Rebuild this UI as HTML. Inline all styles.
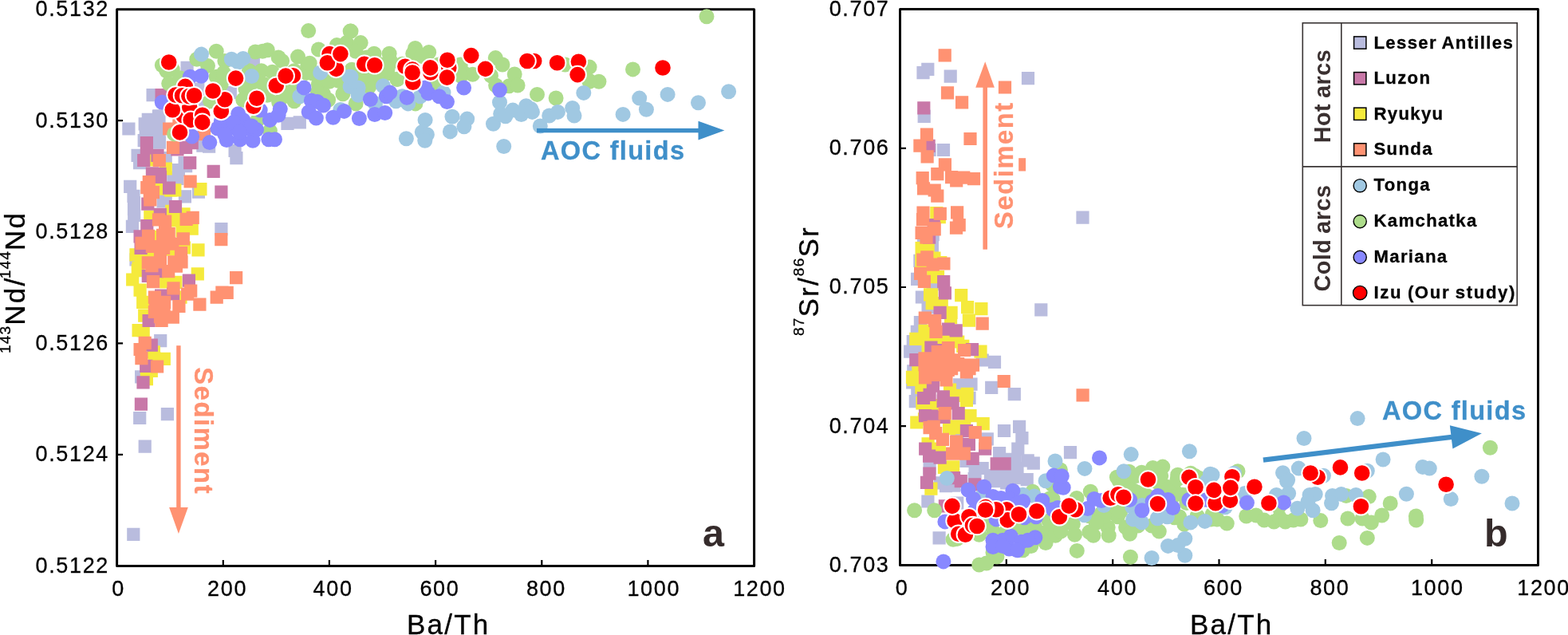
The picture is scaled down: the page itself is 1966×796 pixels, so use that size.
<!DOCTYPE html>
<html lang="en"><head><meta charset="utf-8"><title>Ba/Th versus Nd and Sr isotopes in hot and cold arcs</title>
<style>
html,body{margin:0;padding:0;background:#fff}
body{width:1966px;height:796px;overflow:hidden}
svg{display:block;font-family:"Liberation Sans",Arial,Helvetica,sans-serif}
.tk{font-size:27px;letter-spacing:1.65px;fill:#000;stroke:#000;stroke-width:0.3px}
.ax{font-size:35px;letter-spacing:2.2px;fill:#000;stroke:#000;stroke-width:0.3px}
.sup{font-size:19px;letter-spacing:1.2px}
.an{font-size:32.6px;font-weight:bold;letter-spacing:1.3px;stroke-width:0.3px}
.sd{letter-spacing:1.65px}
.lg{font-size:22.2px;font-weight:bold;letter-spacing:1.3px;word-spacing:-1px;fill:#000;stroke:#000;stroke-width:0.3px}
.grp{font-size:28.8px;font-weight:bold;letter-spacing:0.45px;word-spacing:-1.4px;fill:#3a3030}
.pl{font-size:48.5px;font-weight:bold;fill:#352b2b}
</style></head><body>
<svg width="1966" height="796" viewBox="0 0 1966 796">
<rect width="1966" height="796" fill="#fff"/>
<g id="panel-a">
<rect x="146.6" y="11.7" width="799.0" height="697.7" fill="none" stroke="#000" stroke-width="3" stroke-linejoin="round"/>
<path d="M279.8 709.4v-7.5M412.9 709.4v-7.5M546.1 709.4v-7.5M679.3 709.4v-7.5M812.4 709.4v-7.5M146.6 151.2h7.5M146.6 290.8h7.5M146.6 430.3h7.5M146.6 569.9h7.5" stroke="#000" stroke-width="2.2" fill="none"/>
<path fill="#b9bcde" d="M183.5 111.1h16.2v16.2h-16.2zM226.5 76.8h16.2v16.2h-16.2zM309.7 69.9h16.2v16.2h-16.2zM280.7 108.0h16.2v16.2h-16.2zM240.2 103.5h16.2v16.2h-16.2zM153.3 153.4h16.2v16.2h-16.2zM173.6 147.3h16.2v16.2h-16.2zM190.9 137.7h16.2v16.2h-16.2zM182.8 155.0h16.2v16.2h-16.2zM246.9 121.4h16.2v16.2h-16.2zM246.3 174.6h16.2v16.2h-16.2zM254.0 175.6h16.2v16.2h-16.2zM286.5 180.7h16.2v16.2h-16.2zM288.3 190.1h16.2v16.2h-16.2zM191.9 170.5h16.2v16.2h-16.2zM164.5 186.8h16.2v16.2h-16.2zM167.0 196.0h16.2v16.2h-16.2zM199.6 189.9h16.2v16.2h-16.2zM223.5 196.0h16.2v16.2h-16.2zM225.0 200.0h16.2v16.2h-16.2zM215.8 205.1h16.2v16.2h-16.2zM209.2 214.8h16.2v16.2h-16.2zM214.3 215.8h16.2v16.2h-16.2zM155.1 225.8h16.2v16.2h-16.2zM159.4 237.7h16.2v16.2h-16.2zM223.8 238.2h16.2v16.2h-16.2zM240.8 232.6h16.2v16.2h-16.2zM199.6 242.3h16.2v16.2h-16.2zM172.6 168.0h16.2v16.2h-16.2zM159.9 246.0h16.2v16.2h-16.2zM159.9 254.1h16.2v16.2h-16.2zM157.8 275.8h16.2v16.2h-16.2zM269.3 279.1h16.2v16.2h-16.2zM196.5 244.4h16.2v16.2h-16.2zM162.4 317.2h16.2v16.2h-16.2zM193.1 419.0h16.2v16.2h-16.2zM169.0 464.2h16.2v16.2h-16.2zM167.1 515.9h16.2v16.2h-16.2zM201.8 511.0h16.2v16.2h-16.2zM173.6 551.5h16.2v16.2h-16.2zM159.2 661.8h16.2v16.2h-16.2zM352.4 146.8h16.2v16.2h-16.2zM367.7 145.3h16.2v16.2h-16.2zM174.6 152.4h16.2v16.2h-16.2zM191.4 146.3h16.2v16.2h-16.2zM191.4 160.0h16.2v16.2h-16.2zM177.7 141.7h16.2v16.2h-16.2zM191.4 137.2h16.2v16.2h-16.2zM160.1 261.7h16.2v16.2h-16.2z"/>
<path fill="#f5ea3c" d="M199.6 203.4h16.2v16.2h-16.2zM243.3 229.0h16.2v16.2h-16.2zM211.2 230.3h16.2v16.2h-16.2zM206.2 230.6h16.2v16.2h-16.2zM192.9 228.5h16.2v16.2h-16.2zM176.7 192.4h16.2v16.2h-16.2zM180.2 263.8h16.2v16.2h-16.2zM207.2 256.7h16.2v16.2h-16.2zM222.4 260.2h16.2v16.2h-16.2zM212.3 268.3h16.2v16.2h-16.2zM220.4 281.1h16.2v16.2h-16.2zM232.6 278.5h16.2v16.2h-16.2zM240.4 305.2h16.2v16.2h-16.2zM222.9 302.4h16.2v16.2h-16.2zM208.2 304.5h16.2v16.2h-16.2zM186.8 288.7h16.2v16.2h-16.2zM168.5 314.1h16.2v16.2h-16.2zM177.2 312.1h16.2v16.2h-16.2zM239.7 335.3h16.2v16.2h-16.2zM158.1 342.4h16.2v16.2h-16.2zM165.5 328.0h16.2v16.2h-16.2zM167.5 355.5h16.2v16.2h-16.2zM200.1 345.3h16.2v16.2h-16.2zM212.3 345.8h16.2v16.2h-16.2zM171.1 370.7h16.2v16.2h-16.2zM173.1 387.5h16.2v16.2h-16.2zM218.4 364.6h16.2v16.2h-16.2zM165.5 406.0h16.2v16.2h-16.2zM171.6 406.2h16.2v16.2h-16.2zM197.7 441.8h16.2v16.2h-16.2zM185.8 441.6h16.2v16.2h-16.2zM184.8 433.2h16.2v16.2h-16.2zM181.7 456.8h16.2v16.2h-16.2zM175.8 467.0h16.2v16.2h-16.2zM164.7 331.1h16.2v16.2h-16.2zM162.4 311.2h16.2v16.2h-16.2z"/>
<path fill="#c878a8" d="M194.5 111.1h16.2v16.2h-16.2zM175.8 171.1h16.2v16.2h-16.2zM175.8 177.2h16.2v16.2h-16.2zM172.1 192.9h16.2v16.2h-16.2zM189.4 186.8h16.2v16.2h-16.2zM182.8 209.2h16.2v16.2h-16.2zM192.4 209.7h16.2v16.2h-16.2zM192.9 213.8h16.2v16.2h-16.2zM225.0 176.7h16.2v16.2h-16.2zM232.6 171.1h16.2v16.2h-16.2zM214.3 179.2h16.2v16.2h-16.2zM230.1 196.0h16.2v16.2h-16.2zM259.6 206.8h16.2v16.2h-16.2zM269.3 232.6h16.2v16.2h-16.2zM204.0 227.5h16.2v16.2h-16.2zM211.9 250.9h16.2v16.2h-16.2zM177.2 247.5h16.2v16.2h-16.2zM192.7 260.7h16.2v16.2h-16.2zM176.2 275.0h16.2v16.2h-16.2zM167.5 288.2h16.2v16.2h-16.2zM168.5 302.9h16.2v16.2h-16.2zM177.7 337.9h16.2v16.2h-16.2zM188.9 332.1h16.2v16.2h-16.2zM228.8 343.6h16.2v16.2h-16.2zM194.0 362.6h16.2v16.2h-16.2zM209.0 360.3h16.2v16.2h-16.2zM178.5 393.9h16.2v16.2h-16.2zM181.7 424.5h16.2v16.2h-16.2zM175.1 450.7h16.2v16.2h-16.2zM171.4 471.3h16.2v16.2h-16.2zM168.8 498.5h16.2v16.2h-16.2z"/>
<path fill="#ff9272" d="M204.1 153.4h16.2v16.2h-16.2zM216.3 144.8h16.2v16.2h-16.2zM247.9 160.1h16.2v16.2h-16.2zM208.9 176.7h16.2v16.2h-16.2zM191.7 192.9h16.2v16.2h-16.2zM230.5 219.4h16.2v16.2h-16.2zM178.7 219.9h16.2v16.2h-16.2zM176.2 227.0h16.2v16.2h-16.2zM183.8 233.1h16.2v16.2h-16.2zM179.7 235.1h16.2v16.2h-16.2zM180.2 242.4h16.2v16.2h-16.2zM190.9 267.3h16.2v16.2h-16.2zM199.0 269.4h16.2v16.2h-16.2zM225.5 266.8h16.2v16.2h-16.2zM233.6 264.8h16.2v16.2h-16.2zM177.9 287.7h16.2v16.2h-16.2zM196.0 286.7h16.2v16.2h-16.2zM203.6 285.1h16.2v16.2h-16.2zM221.7 291.2h16.2v16.2h-16.2zM169.5 296.8h16.2v16.2h-16.2zM182.8 300.9h16.2v16.2h-16.2zM197.0 302.9h16.2v16.2h-16.2zM218.9 309.0h16.2v16.2h-16.2zM177.7 321.2h16.2v16.2h-16.2zM192.9 320.2h16.2v16.2h-16.2zM210.2 320.2h16.2v16.2h-16.2zM219.4 320.2h16.2v16.2h-16.2zM269.2 292.1h16.2v16.2h-16.2zM288.0 340.1h16.2v16.2h-16.2zM270.3 358.5h16.2v16.2h-16.2zM276.6 358.7h16.2v16.2h-16.2zM263.6 364.5h16.2v16.2h-16.2zM242.3 373.6h16.2v16.2h-16.2zM227.0 360.6h16.2v16.2h-16.2zM231.1 356.5h16.2v16.2h-16.2zM209.4 353.2h16.2v16.2h-16.2zM183.9 345.0h16.2v16.2h-16.2zM203.1 332.1h16.2v16.2h-16.2zM212.8 325.5h16.2v16.2h-16.2zM185.8 364.6h16.2v16.2h-16.2zM198.0 370.7h16.2v16.2h-16.2zM216.3 375.9h16.2v16.2h-16.2zM185.8 382.9h16.2v16.2h-16.2zM192.9 389.0h16.2v16.2h-16.2zM208.7 389.6h16.2v16.2h-16.2zM194.5 393.7h16.2v16.2h-16.2zM173.6 421.7h16.2v16.2h-16.2zM167.5 429.9h16.2v16.2h-16.2zM169.3 441.1h16.2v16.2h-16.2zM189.0 451.4h16.2v16.2h-16.2zM199.0 292.9h16.2v16.2h-16.2zM192.9 309.7h16.2v16.2h-16.2zM208.2 297.5h16.2v16.2h-16.2zM182.3 325.0h16.2v16.2h-16.2zM199.0 277.7h16.2v16.2h-16.2zM186.8 374.7h16.2v16.2h-16.2zM197.5 379.3h16.2v16.2h-16.2z"/>
<g fill="#addc8b"><circle cx="386.7" cy="38.6" r="9.5"/><circle cx="439.1" cy="39.1" r="9.5"/><circle cx="399.4" cy="62.0" r="9.5"/><circle cx="422.3" cy="56.6" r="9.5"/><circle cx="434.5" cy="53.6" r="9.5"/><circle cx="271.2" cy="64.3" r="9.5"/><circle cx="320.1" cy="65.0" r="9.5"/><circle cx="329.2" cy="64.3" r="9.5"/><circle cx="335.3" cy="62.7" r="9.5"/><circle cx="349.1" cy="71.9" r="9.5"/><circle cx="353.6" cy="76.5" r="9.5"/><circle cx="373.5" cy="71.1" r="9.5"/><circle cx="385.7" cy="82.6" r="9.5"/><circle cx="246.8" cy="74.2" r="9.5"/><circle cx="260.5" cy="82.6" r="9.5"/><circle cx="281.9" cy="76.5" r="9.5"/><circle cx="203.3" cy="81.8" r="9.5"/><circle cx="208.7" cy="88.7" r="9.5"/><circle cx="216.3" cy="87.1" r="9.5"/><circle cx="211.7" cy="104.7" r="9.5"/><circle cx="225.5" cy="97.8" r="9.5"/><circle cx="271.2" cy="96.3" r="9.5"/><circle cx="312.4" cy="88.7" r="9.5"/><circle cx="327.7" cy="88.7" r="9.5"/><circle cx="341.4" cy="90.2" r="9.5"/><circle cx="368.9" cy="88.7" r="9.5"/><circle cx="277.3" cy="105.5" r="9.5"/><circle cx="307.9" cy="111.6" r="9.5"/><circle cx="330.7" cy="105.5" r="9.5"/><circle cx="335.3" cy="119.2" r="9.5"/><circle cx="304.8" cy="125.3" r="9.5"/><circle cx="263.6" cy="126.8" r="9.5"/><circle cx="368.9" cy="126.8" r="9.5"/><circle cx="391.8" cy="91.7" r="9.5"/><circle cx="399.4" cy="105.5" r="9.5"/><circle cx="405.5" cy="117.7" r="9.5"/><circle cx="411.6" cy="125.3" r="9.5"/><circle cx="429.9" cy="117.7" r="9.5"/><circle cx="429.9" cy="96.3" r="9.5"/><circle cx="440.0" cy="39.1" r="9.5"/><circle cx="452.2" cy="53.6" r="9.5"/><circle cx="446.1" cy="64.3" r="9.5"/><circle cx="469.0" cy="67.3" r="9.5"/><circle cx="488.1" cy="67.3" r="9.5"/><circle cx="459.8" cy="71.9" r="9.5"/><circle cx="478.1" cy="81.0" r="9.5"/><circle cx="490.4" cy="78.0" r="9.5"/><circle cx="504.1" cy="80.3" r="9.5"/><circle cx="520.6" cy="60.4" r="9.5"/><circle cx="537.7" cy="65.5" r="9.5"/><circle cx="517.8" cy="67.3" r="9.5"/><circle cx="528.5" cy="70.4" r="9.5"/><circle cx="549.9" cy="81.0" r="9.5"/><circle cx="577.3" cy="81.0" r="9.5"/><circle cx="581.9" cy="91.7" r="9.5"/><circle cx="592.6" cy="93.2" r="9.5"/><circle cx="577.3" cy="94.8" r="9.5"/><circle cx="621.3" cy="72.6" r="9.5"/><circle cx="630.0" cy="81.0" r="9.5"/><circle cx="645.2" cy="92.9" r="9.5"/><circle cx="615.5" cy="94.8" r="9.5"/><circle cx="621.6" cy="107.0" r="9.5"/><circle cx="638.4" cy="107.7" r="9.5"/><circle cx="649.1" cy="107.0" r="9.5"/><circle cx="673.5" cy="118.4" r="9.5"/><circle cx="697.1" cy="123.0" r="9.5"/><circle cx="708.6" cy="81.0" r="9.5"/><circle cx="739.1" cy="84.1" r="9.5"/><circle cx="739.1" cy="102.4" r="9.5"/><circle cx="455.3" cy="96.3" r="9.5"/><circle cx="470.5" cy="96.3" r="9.5"/><circle cx="485.8" cy="91.7" r="9.5"/><circle cx="498.0" cy="99.3" r="9.5"/><circle cx="462.9" cy="108.5" r="9.5"/><circle cx="446.1" cy="129.9" r="9.5"/><circle cx="520.9" cy="129.9" r="9.5"/><circle cx="543.8" cy="107.0" r="9.5"/><circle cx="886.0" cy="20.8" r="9.5"/><circle cx="793.5" cy="86.9" r="9.5"/><circle cx="750.9" cy="102.2" r="9.5"/><circle cx="739.4" cy="101.6" r="9.5"/><circle cx="338.4" cy="164.1" r="9.5"/><circle cx="323.1" cy="150.4" r="9.5"/><circle cx="218.6" cy="167.9" r="9.5"/><circle cx="384.2" cy="91.4" r="9.5"/><circle cx="424.8" cy="101.6" r="9.5"/><circle cx="280.4" cy="91.4" r="9.5"/><circle cx="349.6" cy="128.0" r="9.5"/><circle cx="359.7" cy="119.9" r="9.5"/><circle cx="498.1" cy="99.5" r="9.5"/><circle cx="323.1" cy="101.6" r="9.5"/><circle cx="331.3" cy="115.8" r="9.5"/><circle cx="312.9" cy="107.7" r="9.5"/><circle cx="388.2" cy="79.2" r="9.5"/><circle cx="473.7" cy="91.4" r="9.5"/><circle cx="363.8" cy="107.7" r="9.5"/><circle cx="398.4" cy="115.8" r="9.5"/><circle cx="306.8" cy="123.9" r="9.5"/><circle cx="441.1" cy="87.3" r="9.5"/><circle cx="457.4" cy="95.5" r="9.5"/><circle cx="485.9" cy="87.3" r="9.5"/><circle cx="412.9" cy="102.2" r="9.5"/></g>
<g fill="#a0c8e2"><circle cx="252.5" cy="68.1" r="9.5"/><circle cx="290.3" cy="74.2" r="9.5"/><circle cx="304.8" cy="73.4" r="9.5"/><circle cx="298.7" cy="78.0" r="9.5"/><circle cx="315.5" cy="95.5" r="9.5"/><circle cx="401.7" cy="91.0" r="9.5"/><circle cx="375.8" cy="120.7" r="9.5"/><circle cx="437.6" cy="96.3" r="9.5"/><circle cx="439.1" cy="108.5" r="9.5"/><circle cx="426.9" cy="137.5" r="9.5"/><circle cx="440.0" cy="96.3" r="9.5"/><circle cx="449.2" cy="110.0" r="9.5"/><circle cx="449.2" cy="119.2" r="9.5"/><circle cx="480.4" cy="107.7" r="9.5"/><circle cx="556.0" cy="116.1" r="9.5"/><circle cx="527.0" cy="120.7" r="9.5"/><circle cx="496.5" cy="126.8" r="9.5"/><circle cx="511.7" cy="129.9" r="9.5"/><circle cx="470.5" cy="129.9" r="9.5"/><circle cx="504.1" cy="120.7" r="9.5"/><circle cx="626.5" cy="128.3" r="9.5"/><circle cx="731.8" cy="116.4" r="9.5"/><circle cx="781.1" cy="143.4" r="9.5"/><circle cx="801.7" cy="123.1" r="9.5"/><circle cx="810.4" cy="137.3" r="9.5"/><circle cx="837.1" cy="118.4" r="9.5"/><circle cx="875.5" cy="128.8" r="9.5"/><circle cx="913.6" cy="114.8" r="9.5"/><circle cx="533.1" cy="150.4" r="9.5"/><circle cx="529.3" cy="165.6" r="9.5"/><circle cx="535.4" cy="168.7" r="9.5"/><circle cx="532.8" cy="176.3" r="9.5"/><circle cx="509.4" cy="173.7" r="9.5"/><circle cx="567.0" cy="146.2" r="9.5"/><circle cx="585.7" cy="149.1" r="9.5"/><circle cx="581.9" cy="158.7" r="9.5"/><circle cx="564.4" cy="164.9" r="9.5"/><circle cx="618.5" cy="155.2" r="9.5"/><circle cx="627.7" cy="142.7" r="9.5"/><circle cx="633.8" cy="145.8" r="9.5"/><circle cx="643.0" cy="138.1" r="9.5"/><circle cx="653.6" cy="143.5" r="9.5"/><circle cx="659.7" cy="132.8" r="9.5"/><circle cx="665.8" cy="136.6" r="9.5"/><circle cx="667.4" cy="140.4" r="9.5"/><circle cx="677.3" cy="158.0" r="9.5"/><circle cx="688.7" cy="145.0" r="9.5"/><circle cx="699.4" cy="140.4" r="9.5"/><circle cx="717.7" cy="135.4" r="9.5"/><circle cx="720.0" cy="145.0" r="9.5"/><circle cx="631.7" cy="183.5" r="9.5"/></g>
<g fill="#8888ff"><circle cx="238.4" cy="96.3" r="9.5"/><circle cx="252.2" cy="95.2" r="9.5"/><circle cx="464.4" cy="124.5" r="9.5"/><circle cx="484.3" cy="120.7" r="9.5"/><circle cx="488.8" cy="116.1" r="9.5"/><circle cx="510.2" cy="122.2" r="9.5"/><circle cx="533.1" cy="110.0" r="9.5"/><circle cx="536.9" cy="116.9" r="9.5"/><circle cx="550.6" cy="120.7" r="9.5"/><circle cx="560.5" cy="127.6" r="9.5"/><circle cx="581.6" cy="110.0" r="9.5"/><circle cx="626.5" cy="112.8" r="9.5"/><circle cx="450.4" cy="148.5" r="9.5"/><circle cx="469.8" cy="143.5" r="9.5"/><circle cx="482.7" cy="141.5" r="9.5"/><circle cx="203.3" cy="128.2" r="9.5"/><circle cx="240.7" cy="171.0" r="9.5"/><circle cx="262.8" cy="178.6" r="9.5"/><circle cx="284.2" cy="175.5" r="9.5"/><circle cx="301.0" cy="174.8" r="9.5"/><circle cx="317.0" cy="176.3" r="9.5"/><circle cx="336.8" cy="174.8" r="9.5"/><circle cx="344.5" cy="174.8" r="9.5"/><circle cx="272.8" cy="161.0" r="9.5"/><circle cx="277.3" cy="151.9" r="9.5"/><circle cx="286.5" cy="161.0" r="9.5"/><circle cx="298.7" cy="142.7" r="9.5"/><circle cx="304.8" cy="150.4" r="9.5"/><circle cx="292.6" cy="153.4" r="9.5"/><circle cx="307.9" cy="161.0" r="9.5"/><circle cx="321.6" cy="162.6" r="9.5"/><circle cx="315.5" cy="158.0" r="9.5"/><circle cx="300.2" cy="165.6" r="9.5"/><circle cx="281.9" cy="168.7" r="9.5"/><circle cx="326.2" cy="138.1" r="9.5"/><circle cx="351.3" cy="136.6" r="9.5"/><circle cx="338.4" cy="150.4" r="9.5"/><circle cx="349.1" cy="144.3" r="9.5"/><circle cx="381.1" cy="109.9" r="9.5"/><circle cx="390.3" cy="125.9" r="9.5"/><circle cx="397.9" cy="127.5" r="9.5"/><circle cx="405.5" cy="132.0" r="9.5"/><circle cx="387.2" cy="140.4" r="9.5"/><circle cx="396.4" cy="148.1" r="9.5"/><circle cx="417.7" cy="147.3" r="9.5"/><circle cx="431.5" cy="139.4" r="9.5"/></g>
<g fill="#ff0000" stroke="#fff" stroke-width="2"><circle cx="346.3" cy="107.3" r="10.8"/><circle cx="211.7" cy="78.0" r="10.8"/><circle cx="295.6" cy="98.1" r="10.8"/><circle cx="413.1" cy="67.6" r="10.8"/><circle cx="421.5" cy="86.4" r="10.8"/><circle cx="410.4" cy="78.7" r="10.8"/><circle cx="426.9" cy="67.6" r="10.8"/><circle cx="367.4" cy="94.8" r="10.8"/><circle cx="358.2" cy="95.1" r="10.8"/><circle cx="456.8" cy="80.3" r="10.8"/><circle cx="469.8" cy="81.8" r="10.8"/><circle cx="507.9" cy="83.3" r="10.8"/><circle cx="517.8" cy="103.2" r="10.8"/><circle cx="517.1" cy="87.1" r="10.8"/><circle cx="517.1" cy="91.0" r="10.8"/><circle cx="539.9" cy="91.0" r="10.8"/><circle cx="539.5" cy="84.9" r="10.8"/><circle cx="562.8" cy="84.9" r="10.8"/><circle cx="560.5" cy="97.1" r="10.8"/><circle cx="560.9" cy="75.2" r="10.8"/><circle cx="590.8" cy="69.6" r="10.8"/><circle cx="608.6" cy="86.4" r="10.8"/><circle cx="669.7" cy="76.5" r="10.8"/><circle cx="661.0" cy="76.5" r="10.8"/><circle cx="698.6" cy="78.7" r="10.8"/><circle cx="725.4" cy="77.2" r="10.8"/><circle cx="724.1" cy="93.6" r="10.8"/><circle cx="831.0" cy="85.0" r="10.8"/><circle cx="277.3" cy="139.4" r="10.8"/><circle cx="281.9" cy="124.7" r="10.8"/><circle cx="267.0" cy="114.0" r="10.8"/><circle cx="317.8" cy="133.3" r="10.8"/><circle cx="321.9" cy="123.2" r="10.8"/><circle cx="230.0" cy="145.0" r="10.8"/><circle cx="216.3" cy="137.8" r="10.8"/><circle cx="237.7" cy="134.3" r="10.8"/><circle cx="239.2" cy="150.4" r="10.8"/><circle cx="253.7" cy="144.3" r="10.8"/><circle cx="253.7" cy="153.4" r="10.8"/><circle cx="225.5" cy="165.9" r="10.8"/><circle cx="232.3" cy="108.4" r="10.8"/><circle cx="220.1" cy="119.1" r="10.8"/><circle cx="228.5" cy="119.8" r="10.8"/><circle cx="236.9" cy="120.6" r="10.8"/><circle cx="243.5" cy="119.8" r="10.8"/></g>
<g fill="#ff9272"><rect x="221.2" y="433.2" width="5.4" height="204"/><path d="M212.1 636.1h23.7L223.9 669z"/></g>
<g fill="#3f8fc9"><rect x="673" y="160.9" width="203" height="5.4"/><path d="M875.5 151.8v23.6L908.4 163.6z"/></g>
<text class="an" fill="#3f8fc9" stroke="#3f8fc9" x="678" y="199.9">AOC fluids</text>
<text class="an sd" fill="#ff9272" stroke="#ff9272" transform="translate(244.1 460.3) rotate(90)">Sediment</text>
<text class="pl" x="881" y="685.1">a</text>
<text class="tk" x="44.5" y="20.0">0.5132</text>
<text class="tk" x="44.5" y="159.5">0.5130</text>
<text class="tk" x="44.5" y="299.1">0.5128</text>
<text class="tk" x="44.5" y="438.6">0.5126</text>
<text class="tk" x="44.5" y="578.2">0.5124</text>
<text class="tk" x="44.5" y="717.7">0.5122</text>
<text class="tk" text-anchor="end" x="156.8" y="746.8">0</text>
<text class="tk" text-anchor="end" x="310.1" y="746.8">200</text>
<text class="tk" text-anchor="end" x="442.6" y="746.8">400</text>
<text class="tk" text-anchor="end" x="576.4" y="746.8">600</text>
<text class="tk" text-anchor="end" x="709.9" y="746.8">800</text>
<text class="tk" text-anchor="end" x="853.1" y="746.8">1000</text>
<text class="tk" text-anchor="end" x="985.8" y="746.8">1200</text>
<text class="ax" x="510" y="794.9">Ba/Th</text>
<text class="ax" transform="translate(31 443) rotate(-90)"><tspan class="sup" dy="-18">143</tspan><tspan dy="18">Nd/</tspan><tspan class="sup" dx="-2.6" dy="-18">144</tspan><tspan dy="18">Nd</tspan></text>
</g>
<g id="panel-b">
<rect x="1128.5" y="11.5" width="800.0" height="697.0" fill="none" stroke="#000" stroke-width="3" stroke-linejoin="round"/>
<path d="M1261.8 708.5v-7.5M1395.2 708.5v-7.5M1528.5 708.5v-7.5M1661.8 708.5v-7.5M1795.2 708.5v-7.5M1128.5 185.8h7.5M1128.5 360.0h7.5M1128.5 534.2h7.5" stroke="#000" stroke-width="2.2" fill="none"/>
<path fill="#b9bcde" d="M1155.2 78.7h16.2v16.2h-16.2zM1149.4 83.1h16.2v16.2h-16.2zM1183.6 87.5h16.2v16.2h-16.2zM1280.9 90.1h16.2v16.2h-16.2zM1150.6 137.7h16.2v16.2h-16.2zM1157.5 179.9h16.2v16.2h-16.2zM1174.9 179.9h16.2v16.2h-16.2zM1161.6 286.0h16.2v16.2h-16.2zM1149.9 295.1h16.2v16.2h-16.2zM1160.8 301.2h16.2v16.2h-16.2zM1145.3 318.7h16.2v16.2h-16.2zM1142.0 341.7h16.2v16.2h-16.2zM1161.6 348.0h16.2v16.2h-16.2zM1147.8 364.4h16.2v16.2h-16.2zM1297.2 380.2h16.2v16.2h-16.2zM1155.5 377.2h16.2v16.2h-16.2zM1145.8 396.0h16.2v16.2h-16.2zM1141.7 407.7h16.2v16.2h-16.2zM1136.7 419.9h16.2v16.2h-16.2zM1133.1 432.6h16.2v16.2h-16.2zM1141.2 432.8h16.2v16.2h-16.2zM1238.9 445.8h16.2v16.2h-16.2zM1223.6 443.4h16.2v16.2h-16.2zM1137.2 457.2h16.2v16.2h-16.2zM1136.1 471.4h16.2v16.2h-16.2zM1195.1 474.2h16.2v16.2h-16.2zM1209.4 473.6h16.2v16.2h-16.2zM1235.1 477.7h16.2v16.2h-16.2zM1263.7 486.1h16.2v16.2h-16.2zM1139.7 495.0h16.2v16.2h-16.2zM1142.2 482.6h16.2v16.2h-16.2zM1207.4 490.7h16.2v16.2h-16.2zM1270.0 526.8h16.2v16.2h-16.2zM1250.9 531.9h16.2v16.2h-16.2zM1273.3 541.0h16.2v16.2h-16.2zM1229.7 542.2h16.2v16.2h-16.2zM1192.1 533.1h16.2v16.2h-16.2zM1268.2 554.5h16.2v16.2h-16.2zM1245.0 560.0h16.2v16.2h-16.2zM1254.1 567.7h16.2v16.2h-16.2zM1280.6 569.2h16.2v16.2h-16.2zM1287.7 572.5h16.2v16.2h-16.2zM1267.4 578.9h16.2v16.2h-16.2zM1279.6 593.1h16.2v16.2h-16.2zM1203.3 569.7h16.2v16.2h-16.2zM1214.5 582.9h16.2v16.2h-16.2zM1223.6 578.9h16.2v16.2h-16.2zM1233.8 588.0h16.2v16.2h-16.2zM1249.1 589.0h16.2v16.2h-16.2zM1264.3 591.1h16.2v16.2h-16.2zM1238.9 595.1h16.2v16.2h-16.2zM1254.1 597.2h16.2v16.2h-16.2zM1213.5 592.1h16.2v16.2h-16.2zM1157.5 578.9h16.2v16.2h-16.2zM1170.7 597.2h16.2v16.2h-16.2zM1264.3 567.7h16.2v16.2h-16.2zM1262.3 582.9h16.2v16.2h-16.2zM1155.3 620.4h16.2v16.2h-16.2zM1192.1 622.4h16.2v16.2h-16.2zM1169.5 666.2h16.2v16.2h-16.2zM1177.9 601.1h16.2v16.2h-16.2zM1188.0 600.5h16.2v16.2h-16.2zM1349.4 264.5h16.2v16.2h-16.2zM1333.9 559.0h16.2v16.2h-16.2z"/>
<path fill="#f5ea3c" d="M1166.2 258.9h16.2v16.2h-16.2zM1169.7 264.0h16.2v16.2h-16.2zM1147.5 303.1h16.2v16.2h-16.2zM1155.5 302.2h16.2v16.2h-16.2zM1163.3 315.5h16.2v16.2h-16.2zM1171.2 321.1h16.2v16.2h-16.2zM1162.1 339.1h16.2v16.2h-16.2zM1167.9 339.1h16.2v16.2h-16.2zM1158.0 361.2h16.2v16.2h-16.2zM1160.0 361.2h16.2v16.2h-16.2zM1197.1 362.1h16.2v16.2h-16.2zM1147.3 319.0h16.2v16.2h-16.2zM1160.6 372.1h16.2v16.2h-16.2zM1172.6 372.1h16.2v16.2h-16.2zM1184.5 383.8h16.2v16.2h-16.2zM1184.0 389.9h16.2v16.2h-16.2zM1205.0 377.0h16.2v16.2h-16.2zM1222.3 379.0h16.2v16.2h-16.2zM1206.8 393.6h16.2v16.2h-16.2zM1151.4 406.7h16.2v16.2h-16.2zM1140.2 416.8h16.2v16.2h-16.2zM1148.9 416.8h16.2v16.2h-16.2zM1177.9 419.9h16.2v16.2h-16.2zM1193.1 420.4h16.2v16.2h-16.2zM1199.2 425.8h16.2v16.2h-16.2zM1221.4 432.6h16.2v16.2h-16.2zM1155.5 433.1h16.2v16.2h-16.2zM1135.9 464.8h16.2v16.2h-16.2zM1137.2 467.8h16.2v16.2h-16.2zM1143.3 454.6h16.2v16.2h-16.2zM1147.3 477.5h16.2v16.2h-16.2zM1182.9 480.6h16.2v16.2h-16.2zM1189.0 487.7h16.2v16.2h-16.2zM1204.5 485.8h16.2v16.2h-16.2zM1203.8 493.8h16.2v16.2h-16.2zM1208.4 513.1h16.2v16.2h-16.2zM1224.6 523.1h16.2v16.2h-16.2zM1188.0 526.3h16.2v16.2h-16.2zM1201.2 526.3h16.2v16.2h-16.2zM1148.3 497.3h16.2v16.2h-16.2zM1162.1 499.9h16.2v16.2h-16.2zM1150.9 517.2h16.2v16.2h-16.2zM1141.2 521.4h16.2v16.2h-16.2zM1181.9 529.0h16.2v16.2h-16.2zM1188.0 528.0h16.2v16.2h-16.2zM1155.5 548.3h16.2v16.2h-16.2zM1169.7 554.5h16.2v16.2h-16.2zM1175.8 577.9h16.2v16.2h-16.2zM1187.0 577.3h16.2v16.2h-16.2zM1159.3 604.6h16.2v16.2h-16.2zM1163.8 420.6h16.2v16.2h-16.2z"/>
<path fill="#c878a8" d="M1150.2 127.2h16.2v16.2h-16.2zM1156.5 174.8h16.2v16.2h-16.2zM1162.6 273.9h16.2v16.2h-16.2zM1157.0 289.5h16.2v16.2h-16.2zM1175.1 345.0h16.2v16.2h-16.2zM1176.8 359.2h16.2v16.2h-16.2zM1170.5 383.8h16.2v16.2h-16.2zM1180.9 404.6h16.2v16.2h-16.2zM1190.6 406.2h16.2v16.2h-16.2zM1159.3 427.5h16.2v16.2h-16.2zM1165.6 431.1h16.2v16.2h-16.2zM1210.9 430.1h16.2v16.2h-16.2zM1140.2 443.1h16.2v16.2h-16.2zM1173.3 439.9h16.2v16.2h-16.2zM1161.8 475.5h16.2v16.2h-16.2zM1157.5 486.7h16.2v16.2h-16.2zM1149.9 490.9h16.2v16.2h-16.2zM1174.7 489.2h16.2v16.2h-16.2zM1186.5 497.3h16.2v16.2h-16.2zM1193.6 510.1h16.2v16.2h-16.2zM1151.9 513.1h16.2v16.2h-16.2zM1160.0 513.6h16.2v16.2h-16.2zM1175.3 514.7h16.2v16.2h-16.2zM1203.8 532.1h16.2v16.2h-16.2zM1206.8 548.9h16.2v16.2h-16.2zM1152.1 554.5h16.2v16.2h-16.2zM1157.0 563.6h16.2v16.2h-16.2zM1170.5 565.6h16.2v16.2h-16.2zM1211.6 566.7h16.2v16.2h-16.2zM1227.0 554.5h16.2v16.2h-16.2zM1241.6 573.3h16.2v16.2h-16.2zM1251.6 573.3h16.2v16.2h-16.2zM1157.3 585.5h16.2v16.2h-16.2zM1153.9 596.7h16.2v16.2h-16.2zM1188.0 591.1h16.2v16.2h-16.2zM1196.7 595.1h16.2v16.2h-16.2zM1214.3 599.2h16.2v16.2h-16.2zM1176.8 626.2h16.2v16.2h-16.2zM1174.5 494.8h16.2v16.2h-16.2z"/>
<path fill="#ff9272" d="M1176.6 61.2h16.2v16.2h-16.2zM1179.9 108.2h16.2v16.2h-16.2zM1198.0 120.2h16.2v16.2h-16.2zM1251.9 101.4h16.2v16.2h-16.2zM1153.9 160.6h16.2v16.2h-16.2zM1145.3 174.6h16.2v16.2h-16.2zM1154.5 188.2h16.2v16.2h-16.2zM1208.4 165.9h16.2v16.2h-16.2zM1176.8 198.2h16.2v16.2h-16.2zM1148.6 215.1h16.2v16.2h-16.2zM1167.2 210.0h16.2v16.2h-16.2zM1185.0 214.1h16.2v16.2h-16.2zM1191.1 218.2h16.2v16.2h-16.2zM1200.2 214.6h16.2v16.2h-16.2zM1212.9 216.0h16.2v16.2h-16.2zM1149.9 228.3h16.2v16.2h-16.2zM1163.6 230.4h16.2v16.2h-16.2zM1167.2 237.5h16.2v16.2h-16.2zM1149.4 258.4h16.2v16.2h-16.2zM1148.9 267.0h16.2v16.2h-16.2zM1163.6 279.2h16.2v16.2h-16.2zM1170.7 259.7h16.2v16.2h-16.2zM1192.0 258.3h16.2v16.2h-16.2zM1194.6 274.1h16.2v16.2h-16.2zM1190.9 277.5h16.2v16.2h-16.2zM1147.5 283.8h16.2v16.2h-16.2zM1153.4 289.5h16.2v16.2h-16.2zM1163.6 278.3h16.2v16.2h-16.2zM1154.2 314.2h16.2v16.2h-16.2zM1149.2 317.5h16.2v16.2h-16.2zM1175.3 322.4h16.2v16.2h-16.2zM1161.6 323.6h16.2v16.2h-16.2zM1146.0 334.8h16.2v16.2h-16.2zM1150.8 344.8h16.2v16.2h-16.2zM1151.7 390.4h16.2v16.2h-16.2zM1164.1 393.9h16.2v16.2h-16.2zM1165.4 407.7h16.2v16.2h-16.2zM1223.6 397.5h16.2v16.2h-16.2zM1180.9 428.0h16.2v16.2h-16.2zM1201.0 430.9h16.2v16.2h-16.2zM1167.7 433.1h16.2v16.2h-16.2zM1151.4 441.2h16.2v16.2h-16.2zM1162.6 441.2h16.2v16.2h-16.2zM1176.8 442.3h16.2v16.2h-16.2zM1188.0 443.3h16.2v16.2h-16.2zM1151.9 465.3h16.2v16.2h-16.2zM1178.4 468.3h16.2v16.2h-16.2zM1203.8 458.2h16.2v16.2h-16.2zM1207.4 454.1h16.2v16.2h-16.2zM1211.9 449.5h16.2v16.2h-16.2zM1151.4 449.0h16.2v16.2h-16.2zM1162.6 452.1h16.2v16.2h-16.2zM1172.8 452.1h16.2v16.2h-16.2zM1185.0 454.1h16.2v16.2h-16.2zM1193.1 448.0h16.2v16.2h-16.2zM1167.7 443.9h16.2v16.2h-16.2zM1250.6 469.9h16.2v16.2h-16.2zM1176.6 510.1h16.2v16.2h-16.2zM1162.6 526.8h16.2v16.2h-16.2zM1157.5 528.0h16.2v16.2h-16.2zM1165.1 535.1h16.2v16.2h-16.2zM1173.8 542.8h16.2v16.2h-16.2zM1214.7 533.9h16.2v16.2h-16.2zM1227.2 547.3h16.2v16.2h-16.2zM1190.9 545.5h16.2v16.2h-16.2zM1186.0 560.6h16.2v16.2h-16.2zM1200.7 560.6h16.2v16.2h-16.2zM1349.5 487.2h16.2v16.2h-16.2zM1165.3 461.8h16.2v16.2h-16.2zM1197.4 449.6h16.2v16.2h-16.2zM1180.6 455.7h16.2v16.2h-16.2zM1157.7 443.5h16.2v16.2h-16.2z"/>
<g fill="#addc8b"><circle cx="1329.4" cy="589.0" r="9.5"/><circle cx="1146.6" cy="639.7" r="9.5"/><circle cx="1171.7" cy="639.7" r="9.5"/><circle cx="1294.8" cy="616.3" r="9.5"/><circle cx="1316.2" cy="624.9" r="9.5"/><circle cx="1318.2" cy="606.1" r="9.5"/><circle cx="1227.7" cy="670.2" r="9.5"/><circle cx="1246.0" cy="667.1" r="9.5"/><circle cx="1239.9" cy="657.0" r="9.5"/><circle cx="1282.6" cy="663.1" r="9.5"/><circle cx="1297.9" cy="661.0" r="9.5"/><circle cx="1313.1" cy="666.1" r="9.5"/><circle cx="1323.3" cy="671.2" r="9.5"/><circle cx="1315.1" cy="652.9" r="9.5"/><circle cx="1277.5" cy="659.0" r="9.5"/><circle cx="1262.2" cy="665.1" r="9.5"/><circle cx="1195.1" cy="676.3" r="9.5"/><circle cx="1329.4" cy="663.1" r="9.5"/><circle cx="1227.7" cy="708.0" r="9.5"/><circle cx="1236.8" cy="706.0" r="9.5"/><circle cx="1245.0" cy="692.7" r="9.5"/><circle cx="1250.0" cy="697.8" r="9.5"/><circle cx="1282.6" cy="689.7" r="9.5"/><circle cx="1292.8" cy="684.6" r="9.5"/><circle cx="1311.1" cy="680.5" r="9.5"/><circle cx="1200.2" cy="675.4" r="9.5"/><circle cx="1323.3" cy="670.3" r="9.5"/><circle cx="1367.3" cy="616.3" r="9.5"/><circle cx="1350.0" cy="624.4" r="9.5"/><circle cx="1320.0" cy="625.4" r="9.5"/><circle cx="1320.0" cy="608.1" r="9.5"/><circle cx="1403.4" cy="603.1" r="9.5"/><circle cx="1411.6" cy="610.2" r="9.5"/><circle cx="1421.7" cy="615.3" r="9.5"/><circle cx="1431.9" cy="620.3" r="9.5"/><circle cx="1462.4" cy="610.2" r="9.5"/><circle cx="1472.6" cy="615.3" r="9.5"/><circle cx="1482.8" cy="620.3" r="9.5"/><circle cx="1452.2" cy="605.1" r="9.5"/><circle cx="1391.2" cy="640.7" r="9.5"/><circle cx="1381.0" cy="643.7" r="9.5"/><circle cx="1401.4" cy="647.8" r="9.5"/><circle cx="1365.8" cy="646.8" r="9.5"/><circle cx="1345.4" cy="657.0" r="9.5"/><circle cx="1330.2" cy="666.1" r="9.5"/><circle cx="1347.5" cy="670.2" r="9.5"/><circle cx="1365.8" cy="667.1" r="9.5"/><circle cx="1370.9" cy="671.2" r="9.5"/><circle cx="1389.2" cy="661.0" r="9.5"/><circle cx="1390.2" cy="671.2" r="9.5"/><circle cx="1411.6" cy="661.0" r="9.5"/><circle cx="1416.6" cy="669.2" r="9.5"/><circle cx="1426.8" cy="659.0" r="9.5"/><circle cx="1444.1" cy="659.0" r="9.5"/><circle cx="1453.3" cy="666.1" r="9.5"/><circle cx="1478.7" cy="647.8" r="9.5"/><circle cx="1484.8" cy="657.0" r="9.5"/><circle cx="1472.6" cy="648.8" r="9.5"/><circle cx="1501.1" cy="646.8" r="9.5"/><circle cx="1518.4" cy="650.9" r="9.5"/><circle cx="1487.9" cy="630.5" r="9.5"/><circle cx="1400.4" cy="598.3" r="9.5"/><circle cx="1415.6" cy="591.2" r="9.5"/><circle cx="1431.4" cy="592.2" r="9.5"/><circle cx="1457.8" cy="585.1" r="9.5"/><circle cx="1450.2" cy="593.2" r="9.5"/><circle cx="1476.7" cy="595.3" r="9.5"/><circle cx="1492.9" cy="593.2" r="9.5"/><circle cx="1503.1" cy="599.3" r="9.5"/><circle cx="1552.0" cy="590.7" r="9.5"/><circle cx="1868.4" cy="561.2" r="9.5"/><circle cx="1562.7" cy="647.0" r="9.5"/><circle cx="1574.9" cy="646.0" r="9.5"/><circle cx="1585.1" cy="652.1" r="9.5"/><circle cx="1597.3" cy="654.1" r="9.5"/><circle cx="1604.4" cy="649.0" r="9.5"/><circle cx="1611.6" cy="654.1" r="9.5"/><circle cx="1621.7" cy="652.1" r="9.5"/><circle cx="1630.9" cy="651.0" r="9.5"/><circle cx="1655.8" cy="652.6" r="9.5"/><circle cx="1689.9" cy="650.0" r="9.5"/><circle cx="1708.2" cy="650.0" r="9.5"/><circle cx="1719.4" cy="655.1" r="9.5"/><circle cx="1687.9" cy="621.5" r="9.5"/><circle cx="1716.3" cy="622.6" r="9.5"/><circle cx="1538.3" cy="656.1" r="9.5"/><circle cx="1526.1" cy="651.0" r="9.5"/><circle cx="1520.0" cy="644.9" r="9.5"/><circle cx="1714.3" cy="674.4" r="9.5"/><circle cx="1603.4" cy="635.8" r="9.5"/><circle cx="1743.2" cy="631.0" r="9.5"/><circle cx="1732.7" cy="646.0" r="9.5"/><circle cx="1775.4" cy="647.0" r="9.5"/><circle cx="1775.7" cy="652.1" r="9.5"/><circle cx="1350.3" cy="690.4" r="9.5"/><circle cx="1417.4" cy="698.3" r="9.5"/><circle cx="1679.2" cy="680.5" r="9.5"/><circle cx="1415.0" cy="606.8" r="9.5"/><circle cx="1425.2" cy="617.0" r="9.5"/><circle cx="1437.4" cy="621.0" r="9.5"/><circle cx="1465.9" cy="610.9" r="9.5"/><circle cx="1476.1" cy="600.7" r="9.5"/><circle cx="1455.7" cy="596.6" r="9.5"/><circle cx="1486.2" cy="621.0" r="9.5"/><circle cx="1445.5" cy="586.4" r="9.5"/><circle cx="1408.9" cy="600.7" r="9.5"/><circle cx="1469.9" cy="623.1" r="9.5"/><circle cx="1425.2" cy="596.6" r="9.5"/><circle cx="1498.4" cy="596.6" r="9.5"/><circle cx="1506.6" cy="627.1" r="9.5"/><circle cx="1404.8" cy="641.4" r="9.5"/><circle cx="1384.5" cy="647.5" r="9.5"/><circle cx="1374.3" cy="655.6" r="9.5"/></g>
<g fill="#a0c8e2"><circle cx="1187.3" cy="599.5" r="9.5"/><circle cx="1323.0" cy="578.0" r="9.5"/><circle cx="1311.1" cy="602.7" r="9.5"/><circle cx="1282.6" cy="620.3" r="9.5"/><circle cx="1296.8" cy="621.9" r="9.5"/><circle cx="1231.7" cy="621.9" r="9.5"/><circle cx="1359.7" cy="645.8" r="9.5"/><circle cx="1384.1" cy="633.6" r="9.5"/><circle cx="1419.7" cy="635.6" r="9.5"/><circle cx="1420.7" cy="650.9" r="9.5"/><circle cx="1431.4" cy="654.9" r="9.5"/><circle cx="1451.2" cy="649.8" r="9.5"/><circle cx="1463.4" cy="647.8" r="9.5"/><circle cx="1492.9" cy="654.9" r="9.5"/><circle cx="1510.7" cy="653.4" r="9.5"/><circle cx="1485.8" cy="675.3" r="9.5"/><circle cx="1464.5" cy="684.4" r="9.5"/><circle cx="1431.9" cy="633.6" r="9.5"/><circle cx="1513.3" cy="603.1" r="9.5"/><circle cx="1360.0" cy="587.4" r="9.5"/><circle cx="1418.2" cy="569.6" r="9.5"/><circle cx="1409.0" cy="590.7" r="9.5"/><circle cx="1491.4" cy="565.8" r="9.5"/><circle cx="1517.4" cy="594.3" r="9.5"/><circle cx="1702.1" cy="524.6" r="9.5"/><circle cx="1635.0" cy="549.5" r="9.5"/><circle cx="1608.5" cy="592.7" r="9.5"/><circle cx="1628.3" cy="587.1" r="9.5"/><circle cx="1659.4" cy="596.3" r="9.5"/><circle cx="1547.5" cy="593.2" r="9.5"/><circle cx="1520.0" cy="595.3" r="9.5"/><circle cx="1714.3" cy="590.2" r="9.5"/><circle cx="1614.6" cy="601.4" r="9.5"/><circle cx="1734.1" cy="576.0" r="9.5"/><circle cx="1783.9" cy="585.4" r="9.5"/><circle cx="1792.3" cy="587.1" r="9.5"/><circle cx="1857.9" cy="597.3" r="9.5"/><circle cx="1536.3" cy="635.8" r="9.5"/><circle cx="1560.7" cy="618.5" r="9.5"/><circle cx="1613.6" cy="603.2" r="9.5"/><circle cx="1600.4" cy="620.5" r="9.5"/><circle cx="1615.6" cy="618.5" r="9.5"/><circle cx="1626.8" cy="637.3" r="9.5"/><circle cx="1646.1" cy="639.8" r="9.5"/><circle cx="1642.1" cy="620.5" r="9.5"/><circle cx="1649.2" cy="619.5" r="9.5"/><circle cx="1640.0" cy="628.7" r="9.5"/><circle cx="1670.6" cy="621.5" r="9.5"/><circle cx="1681.7" cy="619.5" r="9.5"/><circle cx="1669.5" cy="630.7" r="9.5"/><circle cx="1700.1" cy="620.5" r="9.5"/><circle cx="1763.4" cy="619.2" r="9.5"/><circle cx="1819.2" cy="625.6" r="9.5"/><circle cx="1896.0" cy="631.0" r="9.5"/><circle cx="1444.1" cy="699.5" r="9.5"/><circle cx="1485.8" cy="696.3" r="9.5"/><circle cx="1476.7" cy="683.6" r="9.5"/></g>
<g fill="#8888ff"><circle cx="1321.3" cy="596.1" r="9.5"/><circle cx="1213.9" cy="614.2" r="9.5"/><circle cx="1233.8" cy="610.2" r="9.5"/><circle cx="1220.5" cy="625.4" r="9.5"/><circle cx="1245.0" cy="622.4" r="9.5"/><circle cx="1255.1" cy="624.4" r="9.5"/><circle cx="1269.9" cy="615.3" r="9.5"/><circle cx="1265.3" cy="625.4" r="9.5"/><circle cx="1282.6" cy="628.5" r="9.5"/><circle cx="1276.5" cy="630.5" r="9.5"/><circle cx="1307.0" cy="627.5" r="9.5"/><circle cx="1320.2" cy="638.7" r="9.5"/><circle cx="1329.4" cy="610.2" r="9.5"/><circle cx="1184.9" cy="653.9" r="9.5"/><circle cx="1249.0" cy="650.9" r="9.5"/><circle cx="1284.6" cy="648.8" r="9.5"/><circle cx="1298.9" cy="647.8" r="9.5"/><circle cx="1221.6" cy="640.7" r="9.5"/><circle cx="1245.0" cy="677.3" r="9.5"/><circle cx="1267.3" cy="672.2" r="9.5"/><circle cx="1257.2" cy="677.3" r="9.5"/><circle cx="1280.6" cy="679.3" r="9.5"/><circle cx="1297.9" cy="673.8" r="9.5"/><circle cx="1288.7" cy="677.3" r="9.5"/><circle cx="1182.9" cy="703.9" r="9.5"/><circle cx="1245.0" cy="685.6" r="9.5"/><circle cx="1265.3" cy="688.1" r="9.5"/><circle cx="1275.5" cy="689.7" r="9.5"/><circle cx="1257.2" cy="684.6" r="9.5"/><circle cx="1333.2" cy="611.2" r="9.5"/><circle cx="1326.1" cy="636.6" r="9.5"/><circle cx="1363.7" cy="637.6" r="9.5"/><circle cx="1371.9" cy="625.4" r="9.5"/><circle cx="1381.0" cy="627.5" r="9.5"/><circle cx="1416.6" cy="626.4" r="9.5"/><circle cx="1451.7" cy="621.4" r="9.5"/><circle cx="1464.5" cy="626.4" r="9.5"/><circle cx="1445.1" cy="628.5" r="9.5"/><circle cx="1470.6" cy="636.6" r="9.5"/><circle cx="1431.9" cy="639.7" r="9.5"/><circle cx="1490.9" cy="626.4" r="9.5"/><circle cx="1513.3" cy="626.4" r="9.5"/><circle cx="1378.5" cy="573.9" r="9.5"/><circle cx="1563.4" cy="630.2" r="9.5"/><circle cx="1609.5" cy="629.9" r="9.5"/><circle cx="1532.2" cy="633.7" r="9.5"/><circle cx="1331.3" cy="596.7" r="9.5"/></g>
<g fill="#ff0000" stroke="#fff" stroke-width="2"><circle cx="1197.1" cy="652.9" r="10.8"/><circle cx="1201.7" cy="669.2" r="10.8"/><circle cx="1210.4" cy="670.2" r="10.8"/><circle cx="1214.9" cy="647.8" r="10.8"/><circle cx="1219.5" cy="658.5" r="10.8"/><circle cx="1225.1" cy="659.5" r="10.8"/><circle cx="1193.9" cy="634.4" r="10.8"/><circle cx="1262.2" cy="638.7" r="10.8"/><circle cx="1263.3" cy="651.9" r="10.8"/><circle cx="1249.0" cy="638.7" r="10.8"/><circle cx="1235.8" cy="635.6" r="10.8"/><circle cx="1235.6" cy="639.2" r="10.8"/><circle cx="1277.5" cy="644.8" r="10.8"/><circle cx="1299.9" cy="640.7" r="10.8"/><circle cx="1328.4" cy="647.8" r="10.8"/><circle cx="1348.5" cy="638.7" r="10.8"/><circle cx="1340.3" cy="634.1" r="10.8"/><circle cx="1392.2" cy="624.2" r="10.8"/><circle cx="1401.9" cy="619.8" r="10.8"/><circle cx="1408.8" cy="623.2" r="10.8"/><circle cx="1439.5" cy="601.0" r="10.8"/><circle cx="1451.5" cy="631.5" r="10.8"/><circle cx="1490.9" cy="598.4" r="10.8"/><circle cx="1499.0" cy="610.7" r="10.8"/><circle cx="1499.0" cy="631.0" r="10.8"/><circle cx="1544.9" cy="597.8" r="10.8"/><circle cx="1652.2" cy="598.3" r="10.8"/><circle cx="1643.1" cy="593.0" r="10.8"/><circle cx="1680.5" cy="585.9" r="10.8"/><circle cx="1707.7" cy="593.0" r="10.8"/><circle cx="1524.1" cy="630.7" r="10.8"/><circle cx="1542.4" cy="627.1" r="10.8"/><circle cx="1522.0" cy="614.4" r="10.8"/><circle cx="1542.9" cy="611.4" r="10.8"/><circle cx="1572.9" cy="610.3" r="10.8"/><circle cx="1590.9" cy="630.7" r="10.8"/><circle cx="1706.4" cy="634.8" r="10.8"/><circle cx="1813.1" cy="607.3" r="10.8"/></g>
<rect x="1277.2" y="198.2" width="8.9" height="16.3" fill="#ff9272"/>
<g fill="#ff9272"><rect x="1232.4" y="109" width="5.6" height="203.7"/><path d="M1223.2 109.8h23.7L1235.2 77.3z"/></g>
<g fill="#3f8fc9" transform="translate(1583.9 576.6) rotate(-6.95)"><rect x="0" y="-3.1" width="238" height="6.2"/><path d="M237.5 -14.7v29.4L276 0z"/></g>
<text class="an" fill="#3f8fc9" stroke="#3f8fc9" x="1733" y="525.8">AOC fluids</text>
<text class="an sd" fill="#ff9272" stroke="#ff9272" transform="translate(1269.6 287) rotate(-90)">Sediment</text>
<text class="pl" x="1861" y="685.1">b</text>
<text class="tk" x="1039.7" y="19.8">0.707</text>
<text class="tk" x="1039.7" y="194.1">0.706</text>
<text class="tk" x="1039.7" y="368.3">0.705</text>
<text class="tk" x="1039.7" y="542.5">0.704</text>
<text class="tk" x="1039.7" y="716.8">0.703</text>
<text class="tk" text-anchor="end" x="1139.5" y="745.6">0</text>
<text class="tk" text-anchor="end" x="1292.1" y="745.6">200</text>
<text class="tk" text-anchor="end" x="1426.1" y="745.6">400</text>
<text class="tk" text-anchor="end" x="1558.9" y="745.6">600</text>
<text class="tk" text-anchor="end" x="1692.4" y="745.6">800</text>
<text class="tk" text-anchor="end" x="1835.6" y="745.6">1000</text>
<text class="tk" text-anchor="end" x="1968.9" y="745.6">1200</text>
<text class="ax" x="1492" y="794.9">Ba/Th</text>
<text class="ax" transform="translate(1026.3 421) rotate(-90)"><tspan class="sup" dy="-18">87</tspan><tspan dy="18">Sr/</tspan><tspan class="sup" dy="-18">86</tspan><tspan dy="18">Sr</tspan></text>
<g id="legend">
<rect x="1633.3" y="28.8" width="268.9" height="353.9" fill="#fff" stroke="#3a3535" stroke-width="1.6"/>
<path d="M1681.8 28.8V382.7M1633.3 208.9H1902.2" stroke="#3a3535" stroke-width="1.6" fill="none"/>
<rect x="1697.6" y="45.9" width="15.3" height="15.3" fill="#b9bcde" stroke="#000" stroke-width="1.5"/>
<text class="lg" x="1722.5" y="60.5">Lesser Antilles</text>
<rect x="1697.6" y="90.6" width="15.3" height="15.3" fill="#c878a8" stroke="#000" stroke-width="1.5"/>
<text class="lg" x="1722.5" y="105.2">Luzon</text>
<rect x="1697.6" y="135.1" width="15.3" height="15.3" fill="#f5ea3c" stroke="#000" stroke-width="1.5"/>
<text class="lg" x="1722.5" y="149.7">Ryukyu</text>
<rect x="1697.6" y="179.8" width="15.3" height="15.3" fill="#ff9272" stroke="#000" stroke-width="1.5"/>
<text class="lg" x="1722.5" y="194.4">Sunda</text>
<circle cx="1705.2" cy="232.7" r="8.1" fill="#a0c8e2" stroke="#000" stroke-width="1.4"/>
<text class="lg" x="1722.5" y="239.3">Tonga</text>
<circle cx="1705.2" cy="277.6" r="8.1" fill="#addc8b" stroke="#000" stroke-width="1.4"/>
<text class="lg" x="1722.5" y="284.2">Kamchatka</text>
<circle cx="1705.2" cy="322.4" r="8.1" fill="#8888ff" stroke="#000" stroke-width="1.4"/>
<text class="lg" x="1722.5" y="329.0">Mariana</text>
<circle cx="1705.2" cy="367.1" r="8.7" fill="#ff0000" stroke="#000" stroke-width="1.4"/>
<text class="lg" style="letter-spacing:1.6px" x="1722.5" y="373.7">Izu (Our study)</text>
<text class="grp" text-anchor="middle" transform="translate(1668 120.5) rotate(-90)">Hot arcs</text>
<text class="grp" text-anchor="middle" transform="translate(1668 298.6) rotate(-90)">Cold arcs</text>
</g>
</g>
</svg></body></html>
